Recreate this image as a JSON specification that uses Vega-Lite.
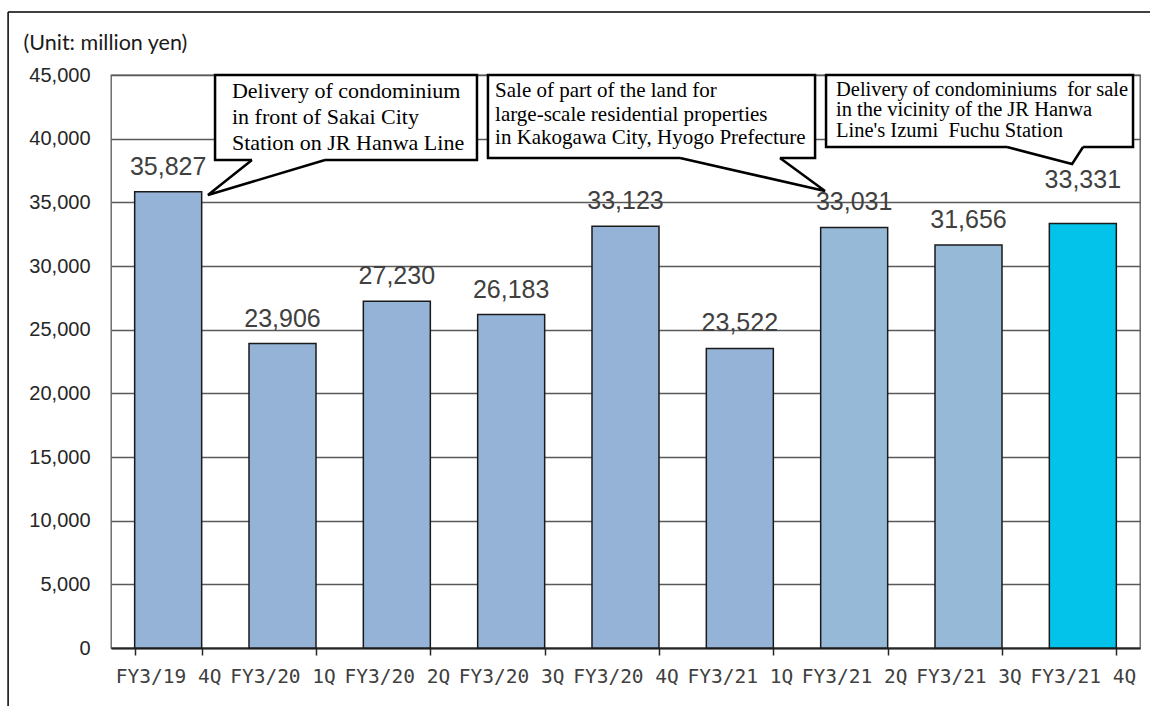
{
  "$schema": "https://vega.github.io/schema/vega-lite/v6.json",
  "width": 1029,
  "height": 573,
  "autosize": {"type": "none"},
  "padding": {"left": 111, "top": 75, "right": 10, "bottom": 58},
  "background": "white",
  "config": {
    "view": {"stroke": "#595959", "strokeWidth": 1.3},
    "font": "Liberation Sans"
  },
  "datasets": {
    "sales": [
      {"Quarter": "FY3/19 4Q", "Sales": 35827},
      {"Quarter": "FY3/20 1Q", "Sales": 23906},
      {"Quarter": "FY3/20 2Q", "Sales": 27230},
      {"Quarter": "FY3/20 3Q", "Sales": 26183},
      {"Quarter": "FY3/20 4Q", "Sales": 33123},
      {"Quarter": "FY3/21 1Q", "Sales": 23522},
      {"Quarter": "FY3/21 2Q", "Sales": 33031},
      {"Quarter": "FY3/21 3Q", "Sales": 31656},
      {"Quarter": "FY3/21 4Q", "Sales": 33331}
    ],
    "callouts": [
      {"id": 1, "note": "Delivery of condominium\nin front of Sakai City\nStation on JR Hanwa Line", "left": 0.91, "right": 3.201, "top": 45000, "bottom": 38325, "baseL": 1.233, "baseR": 1.872, "textX": 1.058, "textY": 43194},
      {"id": 2, "note": "Sale of part of the land for\nlarge-scale residential properties\nin Kakogawa City, Hyogo Prefecture", "left": 3.297, "right": 6.158, "top": 45000, "bottom": 38482, "baseL": 4.977, "baseR": 5.851, "textX": 3.359, "textY": 43272},
      {"id": 3, "note": "Delivery of condominiums\u00a0 for sale\nin the vicinity of the JR Hanwa\nLine's Izumi\u00a0 Fuchu Station", "left": 6.254, "right": 8.939, "top": 45000, "bottom": 39346, "baseL": 7.837, "baseR": 8.502, "textX": 6.341, "textY": 43351}
    ],
    "tails": [
      {"id": 1, "seq": 1, "x": 1.233, "y": 38325},
      {"id": 1, "seq": 2, "x": 0.848, "y": 35576},
      {"id": 1, "seq": 3, "x": 1.872, "y": 38325},
      {"id": 2, "seq": 1, "x": 4.977, "y": 38482},
      {"id": 2, "seq": 2, "x": 6.245, "y": 35890},
      {"id": 2, "seq": 3, "x": 5.851, "y": 38482},
      {"id": 3, "seq": 1, "x": 7.837, "y": 39346},
      {"id": 3, "seq": 2, "x": 8.406, "y": 38012},
      {"id": 3, "seq": 3, "x": 8.502, "y": 39346}
    ]
  },
  "resolve": {"scale": {"x": "independent"}, "axis": {"x": "independent", "y": "independent"}},
  "layer": [
    {
      "data": {"name": "sales"},
      "encoding": {
        "x": {
          "field": "Quarter",
          "type": "nominal",
          "sort": null,
          "scale": {"paddingInner": 0.414, "paddingOuter": 0.207},
          "axis": {
            "title": null,
            "labelAngle": 0,
            "labelFont": "DejaVu Sans Mono",
            "labelFontSize": 19.5,
            "labelColor": "#404040",
            "labelPadding": 12,
            "tickBand": "extent",
            "tickSize": 7,
            "tickColor": "#262626",
            "tickWidth": 1.5,
            "domainColor": "#262626",
            "domainWidth": 2,
            "grid": false
          }
        },
        "y": {
          "field": "Sales",
          "type": "quantitative",
          "scale": {"domain": [0, 45000], "nice": false},
          "axis": {
            "values": [0, 5000, 10000, 15000, 20000, 25000, 30000, 35000, 40000, 45000],
            "labelExpr": "format(datum.value, ',')",
            "labelFont": "Liberation Sans",
            "labelFontSize": 20,
            "labelColor": "#262626",
            "labelPadding": 21,
            "ticks": false,
            "domain": false,
            "grid": true,
            "gridColor": "#595959",
            "gridWidth": 1.3,
            "title": "(Unit: million yen)",
            "titleAngle": 0,
            "titleAlign": "left",
            "titleBaseline": "middle",
            "titleX": -88,
            "titleY": -32,
            "titleFont": "Lato",
            "titleFontSize": 21.5,
            "titleFontWeight": "normal",
            "titleColor": "#1a1a1a"
          }
        }
      },
      "layer": [
        {
          "mark": {"type": "bar", "stroke": "#1a1a1a", "strokeWidth": 1.5},
          "encoding": {
            "color": {
              "field": "Quarter",
              "type": "nominal",
              "sort": null,
              "legend": null,
              "scale": {
                "domain": ["FY3/19 4Q", "FY3/20 1Q", "FY3/20 2Q", "FY3/20 3Q", "FY3/20 4Q", "FY3/21 1Q", "FY3/21 2Q", "FY3/21 3Q", "FY3/21 4Q"],
                "range": ["#95B3D7", "#95B3D7", "#95B3D7", "#95B3D7", "#95B3D7", "#95B3D7", "#96B9D8", "#96B9D8", "#03C3EA"]
              }
            }
          }
        },
        {
          "transform": [{"filter": "datum.Quarter !== 'FY3/21 4Q'"}],
          "mark": {"type": "text", "baseline": "bottom", "dy": -12, "fontSize": 25, "color": "#404040", "font": "Liberation Sans"},
          "encoding": {"text": {"field": "Sales", "type": "quantitative", "format": ","}}
        },
        {
          "transform": [{"filter": "datum.Quarter === 'FY3/21 4Q'"}],
          "mark": {"type": "text", "baseline": "bottom", "dy": -31, "fontSize": 25, "color": "#404040", "font": "Liberation Sans"},
          "encoding": {"text": {"field": "Sales", "type": "quantitative", "format": ","}}
        }
      ]
    },
    {
      "layer": [
        {
          "data": {"values": [{}]},
          "mark": {"type": "rule", "color": "#000000", "strokeWidth": 1.5},
          "encoding": {
            "x": {"datum": -0.9, "type": "quantitative", "scale": {"domain": [0, 9], "nice": false, "zero": false}, "axis": null},
            "x2": {"datum": 9.3},
            "y": {"datum": 49950, "type": "quantitative", "scale": {"domain": [0, 45000], "nice": false}, "axis": null}
          }
        },
        {
          "data": {"values": [{}]},
          "mark": {"type": "rule", "color": "#000000", "strokeWidth": 1.5},
          "encoding": {
            "x": {"datum": -0.9, "type": "quantitative", "scale": {"domain": [0, 9], "nice": false, "zero": false}, "axis": null},
            "y": {"datum": 49950, "type": "quantitative", "scale": {"domain": [0, 45000], "nice": false}, "axis": null},
            "y2": {"datum": -5700}
          }
        },
        {
          "data": {"name": "callouts"},
          "mark": {"type": "rect", "fill": "white", "stroke": "#000000", "strokeWidth": 2.5},
          "encoding": {
            "x": {"field": "left", "type": "quantitative", "scale": {"domain": [0, 9], "nice": false, "zero": false}, "axis": null},
            "x2": {"field": "right"},
            "y": {"field": "top", "type": "quantitative", "scale": {"domain": [0, 45000], "nice": false}, "axis": null},
            "y2": {"field": "bottom"}
          }
        },
        {
          "data": {"name": "callouts"},
          "mark": {"type": "rule", "color": "white", "strokeWidth": 4},
          "encoding": {
            "x": {"field": "baseL", "type": "quantitative", "scale": {"domain": [0, 9], "nice": false, "zero": false}, "axis": null},
            "x2": {"field": "baseR"},
            "y": {"field": "bottom", "type": "quantitative", "scale": {"domain": [0, 45000], "nice": false}, "axis": null}
          }
        },
        {
          "data": {"name": "tails"},
          "mark": {"type": "line", "color": "#000000", "strokeWidth": 2.5, "strokeJoin": "miter"},
          "encoding": {
            "x": {"field": "x", "type": "quantitative", "scale": {"domain": [0, 9], "nice": false, "zero": false}, "axis": null},
            "y": {"field": "y", "type": "quantitative", "scale": {"domain": [0, 45000], "nice": false}, "axis": null},
            "detail": {"field": "id", "type": "nominal"},
            "order": {"field": "seq", "type": "quantitative"}
          }
        },
        {
          "data": {"name": "callouts"},
          "transform": [{"filter": "datum.id === 1"}],
          "mark": {"type": "text", "align": "left", "baseline": "alphabetic", "lineBreak": "\n", "lineHeight": 26, "font": "Liberation Serif", "fontSize": 22, "color": "#000000"},
          "encoding": {
            "x": {"field": "textX", "type": "quantitative", "scale": {"domain": [0, 9], "nice": false, "zero": false}, "axis": null},
            "y": {"field": "textY", "type": "quantitative", "scale": {"domain": [0, 45000], "nice": false}, "axis": null},
            "text": {"field": "note"}
          }
        },
        {
          "data": {"name": "callouts"},
          "transform": [{"filter": "datum.id === 2"}],
          "mark": {"type": "text", "align": "left", "baseline": "alphabetic", "lineBreak": "\n", "lineHeight": 23.5, "font": "Liberation Serif", "fontSize": 21, "color": "#000000"},
          "encoding": {
            "x": {"field": "textX", "type": "quantitative", "scale": {"domain": [0, 9], "nice": false, "zero": false}, "axis": null},
            "y": {"field": "textY", "type": "quantitative", "scale": {"domain": [0, 45000], "nice": false}, "axis": null},
            "text": {"field": "note"}
          }
        },
        {
          "data": {"name": "callouts"},
          "transform": [{"filter": "datum.id === 3"}],
          "mark": {"type": "text", "align": "left", "baseline": "alphabetic", "lineBreak": "\n", "lineHeight": 20.5, "font": "Liberation Serif", "fontSize": 20.5, "color": "#000000"},
          "encoding": {
            "x": {"field": "textX", "type": "quantitative", "scale": {"domain": [0, 9], "nice": false, "zero": false}, "axis": null},
            "y": {"field": "textY", "type": "quantitative", "scale": {"domain": [0, 45000], "nice": false}, "axis": null},
            "text": {"field": "note"}
          }
        }
      ]
    }
  ]
}
